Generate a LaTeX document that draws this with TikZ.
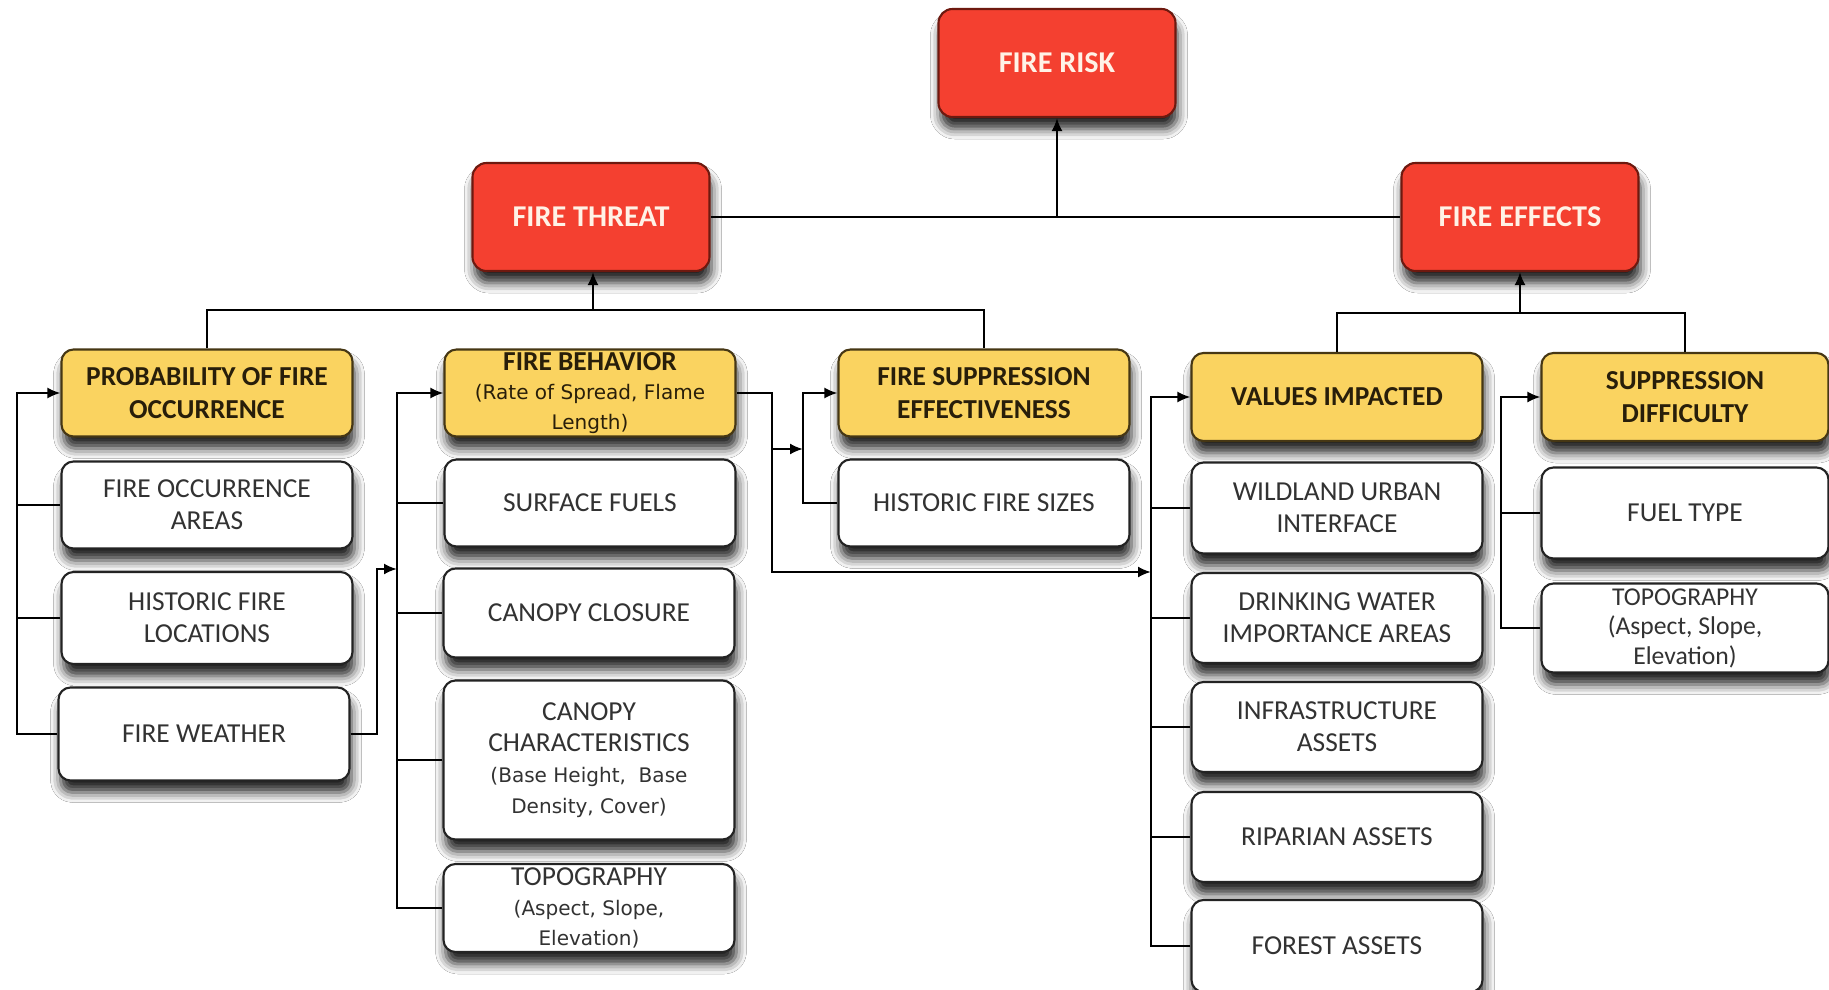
\documentclass[tikz,border=0pt]{standalone}
\usepackage{fontspec}
\setmainfont{Carlito}
\newfontfamily\verdfont{DejaVu Sans}
\usetikzlibrary{arrows.meta,shadows.blur}
\definecolor{firered}{RGB}{244,64,48}
\definecolor{fireline}{RGB}{110,25,15}
\definecolor{firetext}{RGB}{255,242,230}
\definecolor{firegold}{RGB}{250,211,96}
\definecolor{goldline}{RGB}{70,55,20}
\definecolor{goldtext}{RGB}{40,30,10}
\definecolor{boxline}{RGB}{35,35,35}
\definecolor{boxtext}{RGB}{50,50,50}
\newcommand{\subtx}[1]{{\verdfont\mdseries\fontsize{5.7}{8.5}\selectfont #1}}

\begin{document}
\begin{tikzpicture}
    \tikzstyle{redbox}=[rectangle, draw=fireline, fill=firered, rounded corners=0.14cm,
    line width=0.6pt, minimum width=2.37cm, minimum height=1.08cm, text=firetext,
    font=\fontsize{8.6}{10}\selectfont\bfseries,
    blur shadow={shadow xshift=0.02cm, shadow yshift=-0.12cm, shadow blur radius=0.10cm, shadow opacity=85}]
    \tikzstyle{goldbox}=[rectangle, draw=goldline, fill=firegold, rounded corners=0.12cm,
    line width=0.6pt, minimum width=2.91cm, minimum height=0.87cm, text=goldtext,
    align=center, inner ysep=0pt, font=\fontsize{7.8}{9.2}\selectfont\bfseries,
    blur shadow={shadow xshift=0.02cm, shadow yshift=-0.12cm, shadow blur radius=0.10cm, shadow opacity=85}]
    \tikzstyle{whitebox}=[rectangle, draw=boxline, fill=white, rounded corners=0.12cm,
    line width=0.6pt, minimum width=2.91cm, minimum height=0.88cm, text=boxtext,
    align=center, inner ysep=0pt, font=\fontsize{7.8}{9.2}\selectfont,
    blur shadow={shadow xshift=0.02cm, shadow yshift=-0.12cm, shadow blur radius=0.10cm, shadow opacity=85}]
    \tikzstyle{link}=[line width=0.6pt, black]
    \tikzstyle{arr}=[link, -{Latex[length=0.13cm,width=0.11cm]}]

\fill[white] (0,0) rectangle (18.29,-9.90);
\useasboundingbox (0,0) rectangle (18.29,-9.90);

\node[redbox] (risk) at (10.57,-0.63) {FIRE RISK};
\node[redbox] (threat) at (5.91,-2.17) {FIRE THREAT};
\node[redbox] (effects) at (15.20,-2.17) {FIRE EFFECTS};

\node[goldbox] (a0) at (2.07,-3.93) {PROBABILITY OF FIRE\\OCCURRENCE};
\node[goldbox, font=\fontsize{7.8}{8.5}\selectfont\bfseries] (b0) at (5.90,-3.93) {FIRE BEHAVIOR\\\subtx{(Rate of Spread, Flame}\\\subtx{Length)}};
\node[goldbox] (c0) at (9.84,-3.93) {FIRE SUPPRESSION\\EFFECTIVENESS};
\node[goldbox, minimum height=0.88cm] (v0) at (13.37,-3.97) {VALUES IMPACTED};
\node[goldbox, minimum height=0.88cm, minimum width=2.87cm] (s0) at (16.85,-3.97) {SUPPRESSION\\DIFFICULTY};

\node[whitebox, minimum height=0.87cm] (a1) at (2.07,-5.05) {FIRE OCCURRENCE\\AREAS};
\node[whitebox, minimum height=0.92cm] (a2) at (2.07,-6.18) {HISTORIC FIRE\\LOCATIONS};
\node[whitebox, minimum height=0.93cm] (a3) at (2.04,-7.34) {FIRE WEATHER};

\node[whitebox, minimum height=0.87cm] (b1) at (5.90,-5.03) {SURFACE FUELS};
\node[whitebox, minimum height=0.89cm] (b2) at (5.89,-6.13) {CANOPY CLOSURE};
\node[whitebox, minimum height=1.59cm, font=\fontsize{7.8}{8.8}\selectfont] (b3) at (5.89,-7.60) {CANOPY\\CHARACTERISTICS\\\subtx{(Base Height,~ Base}\\\subtx{Density, Cover)}};
\node[whitebox, font=\fontsize{7.8}{8.5}\selectfont] (b4) at (5.89,-9.08) {TOPOGRAPHY\\\subtx{(Aspect, Slope,}\\\subtx{Elevation)}};

\node[whitebox, minimum height=0.87cm] (c1) at (9.84,-5.03) {HISTORIC FIRE SIZES};

\node[whitebox, minimum height=0.91cm] (v1) at (13.37,-5.08) {WILDLAND URBAN\\INTERFACE};
\node[whitebox, minimum height=0.90cm] (v2) at (13.37,-6.18) {DRINKING WATER\\IMPORTANCE AREAS};
\node[whitebox, minimum height=0.90cm] (v3) at (13.37,-7.27) {INFRASTRUCTURE\\ASSETS};
\node[whitebox, minimum height=0.90cm] (v4) at (13.37,-8.37) {RIPARIAN ASSETS};
\node[whitebox, minimum height=0.92cm] (v5) at (13.37,-9.46) {FOREST ASSETS};

\node[whitebox, minimum height=0.91cm, minimum width=2.87cm] (s1) at (16.85,-5.13) {FUEL TYPE};
\node[whitebox, minimum height=0.89cm, minimum width=2.87cm, font=\fontsize{7.3}{8.4}\selectfont] (s2) at (16.85,-6.28) {TOPOGRAPHY\\(Aspect, Slope,\\Elevation)};

\draw[link] (threat) -- (effects);
\draw[arr] (risk |- threat) -- (risk);

\coordinate (tb) at (5.93,-3.10);
\draw[link] (a0.north) |- (tb) -| (c0.north);
\draw[arr] (tb) -- (tb |- threat.south);

\coordinate (eb) at (15.20,-3.13);
\draw[link] (v0.north) |- (eb) -| (s0.north);
\draw[arr] (eb) -- (effects.south);

\coordinate (la) at (0.17,-3.93);
\draw[arr] (a3.west) -| (la) -- (a0.west);
\foreach \n in {a1,a2} \draw[link] (\n.west) -- (\n.west -| la);

\coordinate (lb) at (3.97,-3.93);
\coordinate (fw) at (3.77,-5.69);
\draw[arr] (a3.east) -| (fw) -- (fw -| lb);
\draw[arr] (b4.west) -| (lb) -- (b0.west);
\foreach \n in {b1,b2,b3} \draw[link] (\n.west) -- (\n.west -| lb);

\coordinate (lc) at (8.03,-3.93);
\coordinate (lv) at (11.51,-3.97);
\coordinate (fb) at (7.72,-5.72);
\coordinate (fc) at (7.72,-4.49);
\draw[arr] (b0.east) -| (fb) -- (fb -| lv);
\draw[arr] (fc) -- (fc -| lc);
\draw[arr] (c1.west) -| (lc) -- (c0.west);

\draw[arr] (v5.west) -| (lv) -- (v0.west);
\foreach \n in {v1,v2,v3,v4} \draw[link] (\n.west) -- (\n.west -| lv);

\coordinate (ls) at (15.01,-3.97);
\draw[arr] (s2.west) -| (ls) -- (s0.west);
\draw[link] (s1.west) -- (s1.west -| ls);

\end{tikzpicture}
\end{document}
